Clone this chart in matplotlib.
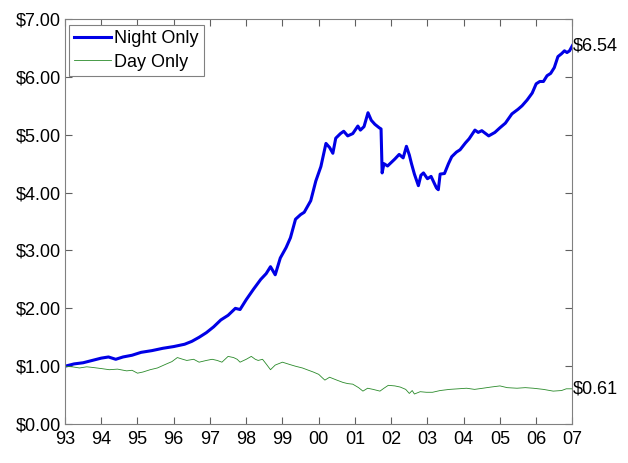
import numpy as np
import matplotlib
matplotlib.use("Agg")
import matplotlib.pyplot as plt

plt.rcParams['font.family'] = ['Liberation Sans', 'DejaVu Sans']

# values (year, dollars)
night_years = [1993.0, 1993.25, 1993.5, 1993.75, 1994.0, 1994.2, 1994.4, 1994.6, 1994.85,
               1995.1, 1995.4, 1995.7, 1996.0, 1996.3, 1996.5, 1996.7, 1996.9, 1997.1,
               1997.3, 1997.5, 1997.7, 1997.83, 1998.0, 1998.2, 1998.4, 1998.55, 1998.67,
               1998.8, 1998.94, 1999.1, 1999.22, 1999.36, 1999.5, 1999.6, 1999.78, 1999.92,
               2000.06, 2000.2, 2000.3, 2000.39, 2000.47, 2000.6, 2000.69, 2000.8, 2000.94,
               2001.08, 2001.15, 2001.25, 2001.36, 2001.45, 2001.55, 2001.67, 2001.72,
               2001.75, 2001.8, 2001.9, 2002.0, 2002.1, 2002.22, 2002.33, 2002.42, 2002.5,
               2002.56, 2002.64, 2002.75, 2002.82, 2002.89, 2003.0, 2003.1, 2003.25, 2003.3,
               2003.35, 2003.47, 2003.58, 2003.67, 2003.8, 2003.9, 2004.05, 2004.15, 2004.31,
               2004.4, 2004.5, 2004.69, 2004.86, 2005.0, 2005.15, 2005.33, 2005.5, 2005.61,
               2005.75, 2005.89, 2006.0, 2006.1, 2006.2, 2006.3, 2006.4, 2006.5, 2006.6,
               2006.7, 2006.78, 2006.85, 2006.92, 2007.0]
night_vals = [1.00, 1.04, 1.06, 1.10, 1.14, 1.16, 1.12, 1.16, 1.19,
              1.24, 1.27, 1.31, 1.34, 1.38, 1.43, 1.50, 1.58, 1.68,
              1.80, 1.88, 2.00, 1.98, 2.15, 2.33, 2.50, 2.60, 2.72,
              2.58, 2.87, 3.05, 3.22, 3.54, 3.62, 3.66, 3.86, 4.20,
              4.45, 4.85, 4.78, 4.68, 4.94, 5.02, 5.06, 4.98, 5.02,
              5.15, 5.08, 5.14, 5.38, 5.25, 5.18, 5.12, 5.10,
              4.34, 4.50, 4.46, 4.52, 4.58, 4.66, 4.60, 4.80, 4.65,
              4.50, 4.32, 4.12, 4.30, 4.34, 4.24, 4.28, 4.08, 4.05,
              4.32, 4.33, 4.50, 4.62, 4.70, 4.74, 4.86, 4.93, 5.08,
              5.04, 5.07, 4.98, 5.04, 5.12, 5.20, 5.36, 5.44, 5.50,
              5.60, 5.72, 5.88, 5.92, 5.92, 6.02, 6.06, 6.16, 6.35,
              6.40, 6.45, 6.42, 6.45, 6.54]

day_years = [1993.0, 1993.2, 1993.4, 1993.6, 1993.75, 1994.0, 1994.22, 1994.45, 1994.7,
             1994.85, 1995.0, 1995.15, 1995.35, 1995.55, 1995.8, 1995.95, 1996.1, 1996.25,
             1996.36, 1996.55, 1996.7, 1996.9, 1997.06, 1997.2, 1997.33, 1997.5, 1997.65,
             1997.75, 1997.83, 1998.0, 1998.14, 1998.25, 1998.33, 1998.45, 1998.55, 1998.67,
             1998.8, 1999.0, 1999.2, 1999.36, 1999.55, 1999.72, 1999.85, 2000.0, 2000.1,
             2000.17, 2000.3, 2000.5, 2000.67, 2000.8, 2000.94, 2001.1, 2001.22, 2001.35,
             2001.5, 2001.69, 2001.8, 2001.92, 2002.1, 2002.25, 2002.4, 2002.5, 2002.58,
             2002.64, 2002.8, 2002.97, 2003.14, 2003.35, 2003.61, 2003.85, 2004.08, 2004.3,
             2004.53, 2004.75, 2005.0, 2005.2, 2005.47, 2005.7, 2005.92, 2006.2, 2006.47,
             2006.7, 2006.83, 2007.0]
day_vals = [1.00, 0.99, 0.97, 0.99, 0.98, 0.96, 0.94, 0.95, 0.92,
            0.93, 0.88, 0.90, 0.94, 0.97, 1.04, 1.08, 1.15, 1.12,
            1.10, 1.12, 1.07, 1.10, 1.12, 1.10, 1.07, 1.17, 1.15,
            1.12, 1.07, 1.12, 1.17, 1.12, 1.10, 1.12, 1.04, 0.94,
            1.02, 1.07, 1.03, 1.00, 0.97, 0.93, 0.90, 0.86, 0.80,
            0.76, 0.81, 0.76, 0.72, 0.70, 0.69, 0.63, 0.57, 0.62,
            0.60, 0.57, 0.62, 0.67, 0.66, 0.64, 0.60, 0.53, 0.58,
            0.52, 0.56, 0.55, 0.55, 0.58, 0.60, 0.61, 0.62, 0.60,
            0.62, 0.64, 0.66, 0.63, 0.62, 0.63, 0.62, 0.60, 0.57,
            0.58, 0.61, 0.61]

year_ticks = list(range(1993, 2008))
year_labels = ["%02d" % (y % 100) for y in year_ticks]
dollar_ticks = list(range(0, 8))

fig = plt.figure(figsize=(6.28, 4.63), dpi=100)
ax = fig.add_axes([0.1035, 0.084, 0.808, 0.875])

ax.plot(night_years, night_vals, color='#0000e6', lw=2.2, label='Night Only')
ax.plot(day_years, day_vals, color='#2a8a2a', lw=0.6, label='Day Only')

ax.set_xlim(1993, 2007)
ax.set_ylim(0, 7)
ax.set_xticks(year_ticks)
ax.set_xticklabels(year_labels)
ax.set_yticks(dollar_ticks)
ax.set_yticklabels(["$%.2f" % d for d in dollar_ticks])
ax.tick_params(direction='in', top=True, right=True, labelsize=13,
               length=5, color='#606060')
ax.tick_params(axis='x', pad=5)
ax.tick_params(axis='y', pad=3)
for s in ax.spines.values():
    s.set_color('#808080')

ax.text(2007, night_vals[-1], "$%.2f" % night_vals[-1], fontsize=13,
        va='center', ha='left')
ax.text(2007, day_vals[-1], "$%.2f" % day_vals[-1], fontsize=13,
        va='center', ha='left')

leg = ax.legend(loc='upper left', bbox_to_anchor=(0.008, 0.985), fontsize=13,
                frameon=True, fancybox=False, framealpha=1, handlelength=2.0,
                borderpad=0.3, labelspacing=0.35, handletextpad=0.2,
                borderaxespad=0)
leg.get_frame().set_edgecolor('#808080')
leg.get_frame().set_linewidth(0.8)

fig.savefig("out.png", dpi=100)
